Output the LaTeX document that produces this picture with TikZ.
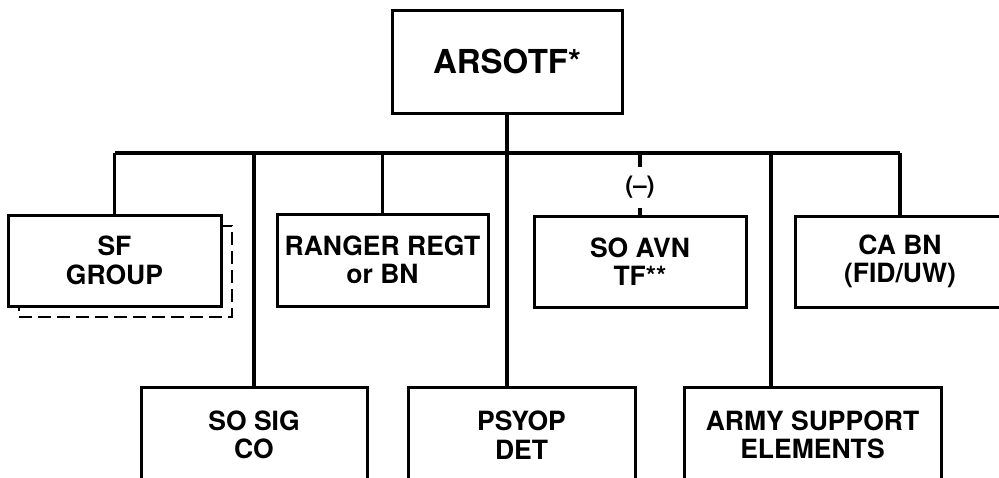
\documentclass[tikz,border=0pt]{standalone}
\usepackage{fontspec}
\setmainfont{TeX Gyre Heros}
\usepackage{tikz}
\usetikzlibrary{positioning}
\tikzset{
    every picture/.style={line cap=butt,line join=miter},
    orgbox/.style={draw=black,fill=white,line width=3pt,inner sep=0pt,
      align=center,font=\bfseries\fontsize{26.5}{28.5}\selectfont},
    topbox/.style={orgbox,font=\bfseries\fontsize{33}{36}\selectfont},
    shadebox/.style={draw=black,line width=2.8pt,dash pattern=on 13pt off 6pt},
    orgline/.style={draw=black,line width=3.2pt},
    reducedmark/.style={inner sep=0pt,minimum height=41pt,
      font=\bfseries\fontsize{24}{26}\selectfont}
}

\begin{document}
\begin{tikzpicture}[x=1pt,y=-1pt]
  \clip (0,0) rectangle (999,477);
  \node[topbox,minimum width=230pt,minimum height=103pt] (tf) at (507,61.5) {ARSOTF*};
  \coordinate (busL) at (115,153);
  \coordinate (busR) at (900,153);
  \coordinate (armyTap) at (771,153);
  \node[shadebox,minimum width=213pt,minimum height=91pt] (sfshade) at (125.5,271.5) {};
  \node[orgbox,minimum width=213pt,minimum height=91pt] (sfgrp) at (114.5,260.5) {SF\\GROUP};
  \node[orgbox,minimum width=211pt,minimum height=92pt] (ranger) at (382.5,260) {RANGER REGT\\or BN};
  \node[orgbox,minimum width=212pt,minimum height=91pt] (soavn) at (640,261.5) {SO AVN\\TF**};
  \node[reducedmark] (minus) at (640,187.5) {\raisebox{5pt}{(--)}};
  \node[orgbox,minimum width=210pt,minimum height=91pt] (cabn) at (900,261.5) {CA BN\\(FID/UW)};
  \node[orgbox,minimum width=226pt,minimum height=96pt] (sosig) at (254,435) {SO SIG\\CO};
  \node[orgbox,minimum width=227pt,minimum height=96pt] (psyop) at (521.5,435) {PSYOP\\DET};
  \node[orgbox,minimum width=257pt,minimum height=96pt] (armysup) at (812.5,435) {ARMY SUPPORT\\ELEMENTS};
  \draw[orgline] (busL) -- (busR);
  \draw[orgline] (tf.south) -- (tf.south |- psyop.north);
  \draw[orgline] (sfgrp.north) -- (sfgrp.north |- busL);
  \draw[orgline] (sosig.north) -- (sosig.north |- busL);
  \draw[orgline] (ranger.north) -- (ranger.north |- busL);
  \draw[orgline] (minus.north |- busL) -- (minus.north);
  \draw[orgline] (minus.south) -- (soavn.north);
  \draw[orgline] (armyTap) -- (armyTap |- armysup.north);
  \draw[orgline] (cabn.north) -- (cabn.north |- busR);
\end{tikzpicture}
\end{document}
